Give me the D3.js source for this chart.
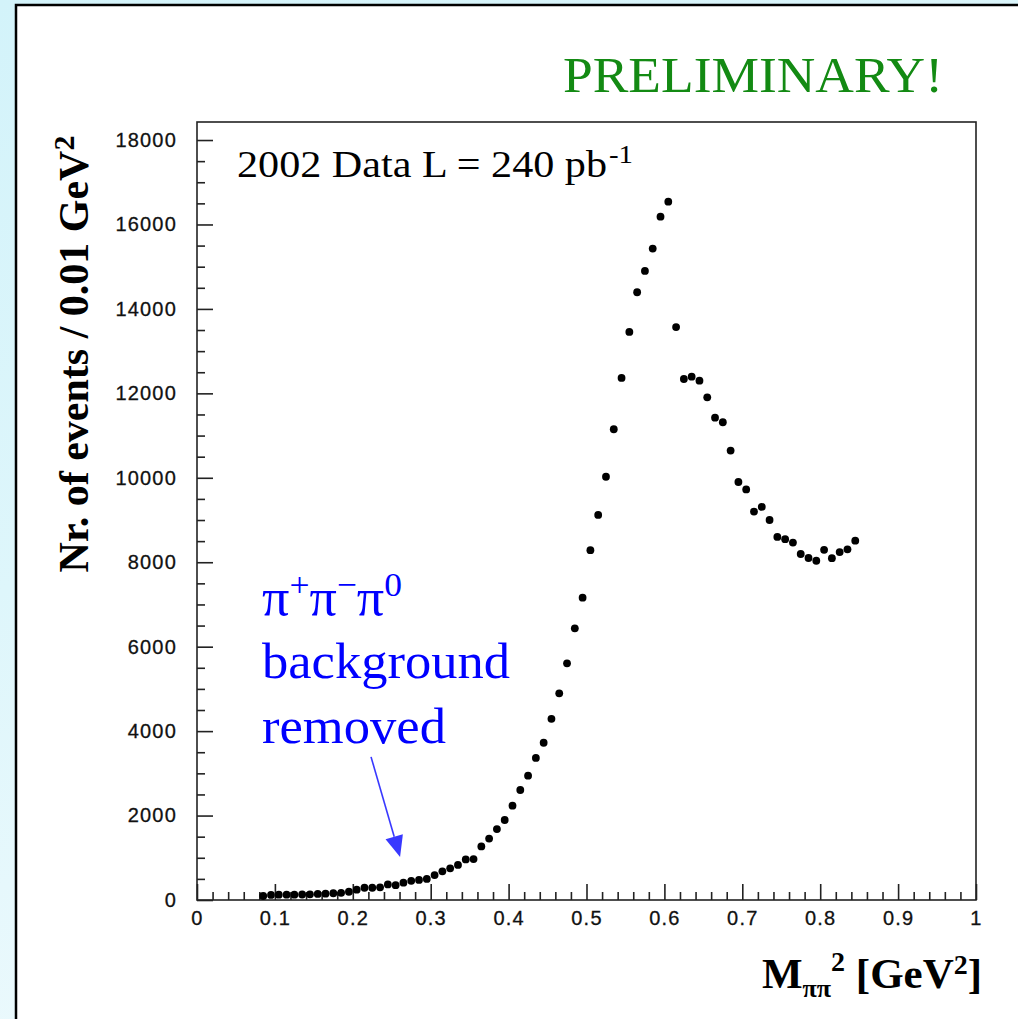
<!DOCTYPE html>
<html>
<head>
<meta charset="utf-8">
<script src="https://cdn.jsdelivr.net/npm/d3@7"></script>
<style>
  html, body { margin: 0; padding: 0; background: #fff; }
  svg { display: block; }
</style>
</head>
<body>
<script>
// ---- data (bin centres in GeV^2, events per 0.01 GeV^2) ----
const massSq = [0.085,0.095,0.105,0.115,0.125,0.135,0.145,0.155,0.165,0.175,
  0.185,0.195,0.205,0.215,0.225,0.235,0.245,0.255,0.265,0.275,
  0.285,0.295,0.305,0.315,0.325,0.335,0.345,0.355,0.365,0.375,
  0.385,0.395,0.405,0.415,0.425,0.435,0.445,0.455,0.465,0.475,
  0.485,0.495,0.505,0.515,0.525,0.535,0.545,0.555,0.565,0.575,
  0.585,0.595,0.605,0.615,0.625,0.635,0.645,0.655,0.665,0.675,
  0.685,0.695,0.705,0.715,0.725,0.735,0.745,0.755,0.765,0.775,
  0.785,0.795,0.805,0.815,0.825,0.835,0.845];
const events = [95,120,125,125,125,130,135,145,150,160,
  170,195,245,290,290,300,370,350,410,455,
  475,500,590,680,750,830,960,970,1270,1455,
  1680,1895,2235,2605,2945,3365,3725,4290,4895,5605,
  6435,7160,8285,9120,10025,11150,12365,13455,14395,14900,
  15430,16185,16540,13570,12340,12395,12300,11905,11425,11315,
  10645,9900,9725,9200,9310,9000,8600,8545,8465,8195,
  8100,8035,8295,8095,8240,8305,8510];
const xMajorTicks = [0,0.1,0.2,0.3,0.4,0.5,0.6,0.7,0.8,0.9,1];
const xTickLabels = ["0","0.1","0.2","0.3","0.4","0.5","0.6","0.7","0.8","0.9","1"];
const yMajorTicks = [0,2000,4000,6000,8000,10000,12000,14000,16000,18000];
const yTickLabels = ["0","2000","4000","6000","8000","10000","12000","14000","16000","18000"];
// arrow annotation (data coordinates): tail -> tip
const arrowFrom = [0.2234, 3390];
const arrowTo = [0.2607, 1020];

// ---- layout ----
const W = 1018, H = 1019;
const plot = {left: 197, right: 976, top: 122, bottom: 900};
const serif = "'Liberation Serif','Times New Roman',Times,serif";
const sans = "'Liberation Sans',Arial,Helvetica,sans-serif";

const svg = d3.select("body").append("svg").attr("width", W).attr("height", H);
const defs = svg.append("defs");
const bg = defs.append("linearGradient").attr("id","bg").attr("x1","0").attr("y1","0").attr("x2","0.4").attr("y2","1");
bg.append("stop").attr("offset","0").attr("stop-color","#d3f3fa");
bg.append("stop").attr("offset","0.5").attr("stop-color","#def6fb");
bg.append("stop").attr("offset","1").attr("stop-color","#eefafd");
svg.append("rect").attr("width", W).attr("height", H).attr("fill","url(#bg)");
svg.append("rect").attr("x",16).attr("y",5).attr("width",1100).attr("height",1100)
  .attr("fill","#fff").attr("stroke","#000").attr("stroke-width",2.5);

const x = d3.scaleLinear().domain([0,1]).range([plot.left, plot.right]);
const y = d3.scaleLinear().domain([0,18427]).range([plot.bottom, plot.top]);

// minor ticks
const xMinor = d3.range(0, 1.0001, 0.02).filter(v => Math.abs(v*10 - Math.round(v*10)) > 1e-6);
const yMinor = d3.range(0, 18001, 500).filter(v => v % 2000 !== 0);

function styleAxis(g) {
  g.select(".domain").remove();
  g.selectAll("line").attr("stroke","#222").attr("stroke-width",1.6);
  g.selectAll("text").attr("font-family", sans).attr("font-size", 20)
    .attr("fill","#111").attr("letter-spacing","1.2px")
    .attr("stroke","#111").attr("stroke-width",0.3);
}

const gx = svg.append("g").attr("transform",`translate(0,${plot.bottom})`);
gx.append("g").call(d3.axisBottom(x).tickValues(xMinor).tickSize(-8).tickFormat("")).call(styleAxis);
gx.append("g").call(d3.axisBottom(x).tickValues(xMajorTicks).tickSize(-16).tickSizeOuter(0).tickPadding(11)
  .tickFormat((d,i) => xTickLabels[i])).call(styleAxis);

const gy = svg.append("g").attr("transform",`translate(${plot.left},0)`);
gy.append("g").call(d3.axisLeft(y).tickValues(yMinor).tickSize(-8).tickFormat("")).call(styleAxis);
gy.append("g").call(d3.axisLeft(y).tickValues(yMajorTicks).tickSize(-16).tickSizeOuter(0).tickPadding(20)
  .tickFormat((d,i) => yTickLabels[i])).call(styleAxis);

// frame
svg.append("rect").attr("x",plot.left).attr("y",plot.top)
  .attr("width",plot.right-plot.left).attr("height",plot.bottom-plot.top)
  .attr("fill","none").attr("stroke","#222").attr("stroke-width",1.6);

// data points
svg.append("g").selectAll("circle").data(massSq).join("circle")
  .attr("cx", d => x(d)).attr("cy", (d,i) => y(events[i])).attr("r", 3.9).attr("fill","#000");

// texts
svg.append("text").attr("x",563).attr("y",92).attr("font-family",serif).attr("font-size",50)
  .attr("fill","#138a13").attr("textLength",380).attr("lengthAdjust","spacingAndGlyphs").text("PRELIMINARY!");

svg.append("text").attr("x",237).attr("y",177).attr("font-family",serif).attr("font-size",38).attr("fill","#000")
  .attr("textLength",370).attr("lengthAdjust","spacingAndGlyphs").text("2002 Data L = 240 pb");
svg.append("text").attr("x",609).attr("y",163).attr("font-family",serif).attr("font-size",25).attr("fill","#000")
  .attr("textLength",24).attr("lengthAdjust","spacingAndGlyphs").text("-1");

// y-axis title
const yt = svg.append("text").attr("transform","translate(88,354) rotate(-90)")
  .attr("text-anchor","middle").attr("font-family",serif).attr("font-weight","bold")
  .attr("font-size",42).attr("fill","#000");
yt.append("tspan").text("Nr. of events / 0.01 GeV");
yt.append("tspan").attr("font-size",30).attr("dy",-14).text("2");

// x-axis title
const xt = svg.append("text").attr("x",762).attr("y",988).attr("font-family",serif)
  .attr("font-weight","bold").attr("font-size",43).attr("fill","#000");
xt.append("tspan").text("M");
xt.append("tspan").attr("font-size",26).attr("dy",9).text("ππ");
xt.append("tspan").attr("font-size",28).attr("dy",-26).text("2");
xt.append("tspan").attr("dy",17).text(" [GeV");
xt.append("tspan").attr("font-size",28).attr("dy",-14).text("2");
xt.append("tspan").attr("dy",14).text("]");

// blue annotation
const blue = "#0000ff";
const l1 = svg.append("text").attr("x",262).attr("y",615).attr("font-family",serif).attr("font-size",52).attr("fill",blue)
  .attr("textLength",140).attr("lengthAdjust","spacingAndGlyphs");
l1.append("tspan").text("π");
l1.append("tspan").attr("font-size",34).attr("dy",-19).text("+");
l1.append("tspan").attr("dy",19).text("π");
l1.append("tspan").attr("font-size",34).attr("dy",-19).text("−");
l1.append("tspan").attr("dy",19).text("π");
l1.append("tspan").attr("font-size",34).attr("dy",-19).text("0");
svg.append("text").attr("x",262).attr("y",678).attr("font-family",serif).attr("font-size",50).attr("fill",blue)
  .attr("textLength",248).attr("lengthAdjust","spacingAndGlyphs").text("background");
svg.append("text").attr("x",262).attr("y",743).attr("font-family",serif).attr("font-size",50).attr("fill",blue)
  .attr("textLength",184).attr("lengthAdjust","spacingAndGlyphs").text("removed");

// arrow
const ax0 = x(arrowFrom[0]), ay0 = y(arrowFrom[1]), ax1 = x(arrowTo[0]), ay1 = y(arrowTo[1]);
const ang = Math.atan2(ay1-ay0, ax1-ax0);
const headLen = 21, headHalf = 9;
const bx = ax1 - headLen*Math.cos(ang), by = ay1 - headLen*Math.sin(ang);
svg.append("line").attr("x1",ax0).attr("y1",ay0).attr("x2",bx).attr("y2",by)
  .attr("stroke","#3838ff").attr("stroke-width",1.6);
svg.append("path").attr("d", d3.line()([
  [ax1, ay1],
  [bx + headHalf*Math.sin(ang), by - headHalf*Math.cos(ang)],
  [bx - headHalf*Math.sin(ang), by + headHalf*Math.cos(ang)]
]) + "Z").attr("fill","#3838ff");
</script>
</body>
</html>
